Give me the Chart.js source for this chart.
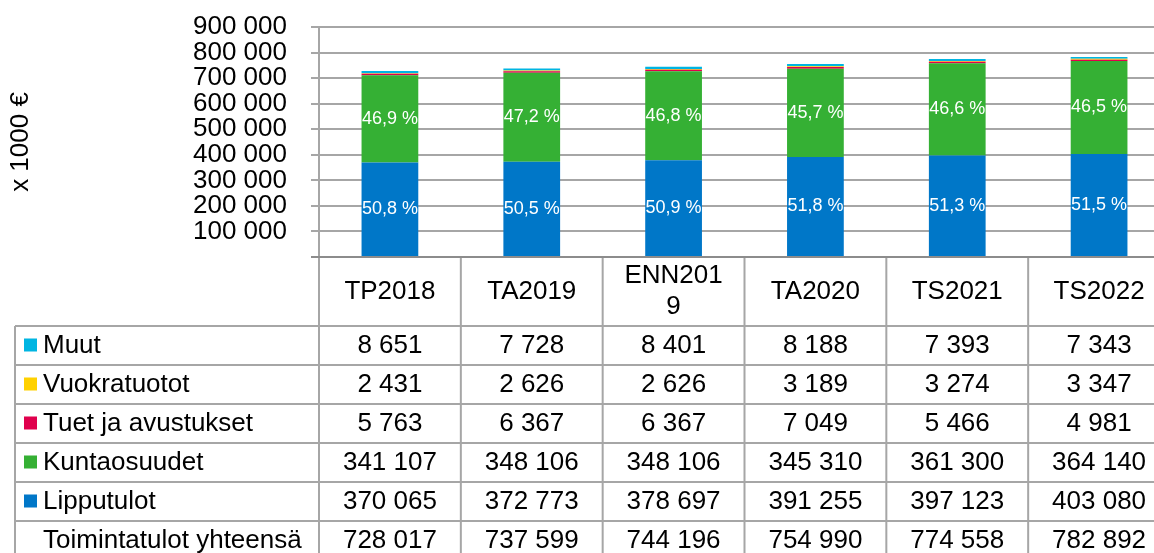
<!DOCTYPE html>
<html>
<head>
<meta charset="utf-8">
<script src="https://cdn.jsdelivr.net/npm/chart.js@4/dist/chart.umd.min.js"></script>
<style>
  html, body { margin: 0; padding: 0; background: #fff; overflow: hidden; }
  #wrap { width: 1170px; height: 553px; }
</style>
</head>
<body>
<div id="wrap"><canvas id="chart" width="1170" height="553"></canvas></div>
<script>
const FONT = '"Liberation Sans", Arial, sans-serif';

// Tiedot (x 1000 €)
const categories = ['TP2018', 'TA2019', 'ENN2019', 'TA2020', 'TS2021', 'TS2022'];
const lipputulot = [370065, 372773, 378697, 391255, 397123, 403080];
const kuntaosuudet = [341107, 348106, 348106, 345310, 361300, 364140];
const tuet = [5763, 6367, 6367, 7049, 5466, 4981];
const vuokratuotot = [2431, 2626, 2626, 3189, 3274, 3347];
const muut = [8651, 7728, 8401, 8188, 7393, 7343];
const yhteensa = [728017, 737599, 744196, 754990, 774558, 782892];
const totalLabel = 'Toimintatulot yhteensä';
const yMax = 900000, yStep = 100000;

const GRID = '#a6a6a6';
const fmt = (n) => String(n).replace(/\B(?=(\d{3})+(?!\d))/g, ' ');

// prosenttiosuudet palkkien sisällä (vain kaksi suurinta sarjaa)
const pctPlugin = {
  id: 'pct',
  afterDatasetsDraw(chart) {
    const ctx = chart.ctx;
    ctx.save();
    ctx.font = '18px ' + FONT;
    ctx.fillStyle = '#fff';
    ctx.textAlign = 'center';
    ctx.textBaseline = 'middle';
    chart.data.datasets.forEach((ds, i) => {
      if (!ds.showPct) return;
      chart.getDatasetMeta(i).data.forEach((bar, j) => {
        const p = (ds.data[j] / yhteensa[j] * 100).toFixed(1).replace('.', ',') + ' %';
        ctx.fillText(p, bar.x, (bar.y + bar.base) / 2);
      });
    });
    ctx.restore();
  }
};

// arvotaulukko kaavion alla
const tablePlugin = {
  id: 'dataTable',
  afterDraw(chart) {
    const { ctx, chartArea: a } = chart;
    const n = categories.length;
    const colW = (a.right - a.left) / n;
    const tLeft = 15, top = a.bottom, headB = top + 69, rowH = 39;
    const rows = [...chart.data.datasets].reverse().map(ds => ({ label: ds.label, color: ds.backgroundColor, vals: ds.data }));
    rows.push({ label: totalLabel, color: null, vals: yhteensa });
    const bottom = headB + rows.length * rowH;

    ctx.save();
    ctx.strokeStyle = GRID;
    ctx.lineWidth = 2;
    ctx.beginPath();
    for (let r = 0; r <= rows.length; r++) {
      const y = headB + r * rowH;
      ctx.moveTo(tLeft, y); ctx.lineTo(a.right, y);
    }
    ctx.moveTo(tLeft, headB); ctx.lineTo(tLeft, bottom);
    for (let c = 0; c <= n; c++) {
      const x = a.left + c * colW;
      ctx.moveTo(x, top); ctx.lineTo(x, bottom);
    }
    ctx.stroke();
    ctx.strokeStyle = '#8c8c8c';
    ctx.beginPath();
    ctx.moveTo(a.left - 8, top); ctx.lineTo(a.right, top);
    ctx.stroke();

    ctx.fillStyle = '#000';
    ctx.font = '26px ' + FONT;
    ctx.textBaseline = 'middle';
    ctx.textAlign = 'center';

    // otsikkorivi, rivitetään liian pitkät
    const maxW = colW * 0.72;
    categories.forEach((c, i) => {
      const cx = chart.scales.x.getPixelForValue(i);
      const lines = [];
      let cur = '';
      for (const ch of c) {
        if (cur && ctx.measureText(cur + ch).width > maxW) { lines.push(cur); cur = ch; }
        else cur += ch;
      }
      lines.push(cur);
      const lh = 31, midY = (top + headB) / 2;
      lines.forEach((l, k) => ctx.fillText(l, cx, midY + (k - (lines.length - 1) / 2) * lh));
    });

    rows.forEach((row, r) => {
      const cy = headB + r * rowH + rowH / 2;
      if (row.color) {
        ctx.fillStyle = row.color;
        ctx.fillRect(24, cy - 7, 13, 13);
      }
      ctx.fillStyle = '#000';
      ctx.textAlign = 'left';
      ctx.fillText(row.label, 43, cy);
      ctx.textAlign = 'center';
      row.vals.forEach((v, i) => ctx.fillText(fmt(v), chart.scales.x.getPixelForValue(i), cy));
    });
    ctx.restore();
  }
};

new Chart(document.getElementById('chart'), {
  type: 'bar',
  data: {
    labels: categories,
    datasets: [
      { label: 'Lipputulot', data: lipputulot, backgroundColor: '#0077c8', showPct: true },
      { label: 'Kuntaosuudet', data: kuntaosuudet, backgroundColor: '#35b034', showPct: true },
      { label: 'Tuet ja avustukset', data: tuet, backgroundColor: '#e0004d' },
      { label: 'Vuokratuotot', data: vuokratuotot, backgroundColor: '#ffd100' },
      { label: 'Muut', data: muut, backgroundColor: '#00b5e2' },
    ],
  },
  options: {
    responsive: false,
    animation: false,
    layout: { padding: { top: 27, bottom: 296, left: 0, right: 0 } },
    datasets: { bar: { categoryPercentage: 1, barPercentage: 0.4 } },
    plugins: { legend: { display: false }, tooltip: { enabled: false } },
    scales: {
      x: { stacked: true, display: false },
      y: {
        stacked: true, min: 0, max: yMax,
        afterFit: (s) => { s.width = 319; s.paddingTop = 0; s.paddingBottom = 0; },
        ticks: {
          stepSize: yStep, color: '#000', padding: 24, autoSkip: false,
          font: { size: 26, family: FONT },
          callback: (v) => v === 0 ? '' : fmt(v),
        },
        grid: { color: GRID, lineWidth: 2, tickLength: 8 },
        border: { color: GRID, width: 2 },
        title: {
          display: true, text: 'x 1000 €', color: '#000',
          font: { size: 26, family: FONT }, padding: { top: 5, bottom: 0 },
        },
      },
    },
  },
  plugins: [pctPlugin, tablePlugin],
});
</script>
</body>
</html>
